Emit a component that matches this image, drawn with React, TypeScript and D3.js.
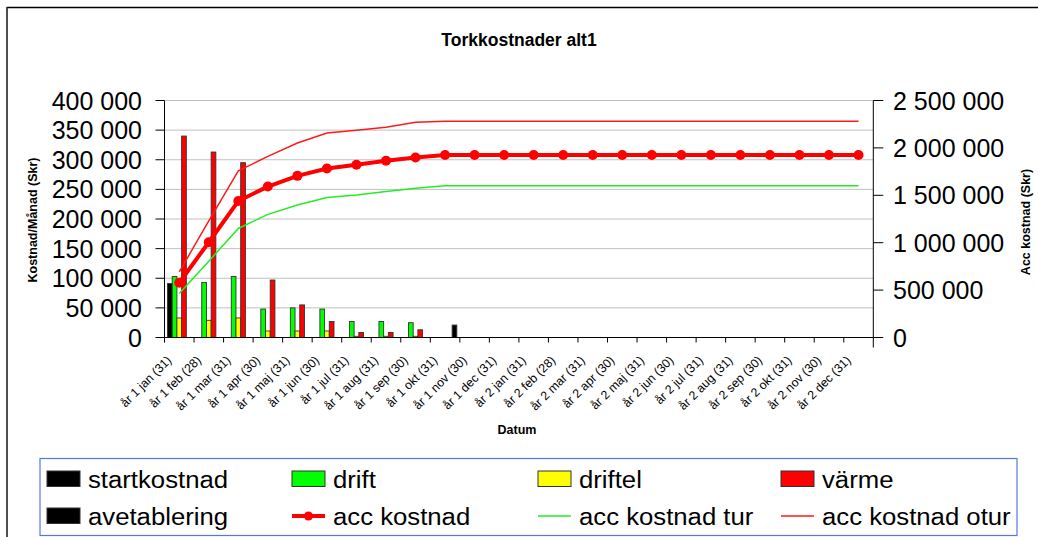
import React from "react";
import * as d3 from "d3";

const categories = [
  "år 1 jan (31)", "år 1 feb (28)", "år 1 mar (31)", "år 1 apr (30)", "år 1 maj (31)", "år 1 jun (30)",
  "år 1 jul (31)", "år 1 aug (31)", "år 1 sep (30)", "år 1 okt (31)", "år 1 nov (30)", "år 1 dec (31)",
  "år 2 jan (31)", "år 2 feb (28)", "år 2 mar (31)", "år 2 apr (30)", "år 2 maj (31)", "år 2 jun (30)",
  "år 2 jul (31)", "år 2 aug (31)", "år 2 sep (30)", "år 2 okt (31)", "år 2 nov (30)", "år 2 dec (31)",
];

const startkostnad = [91000, 0, 0, 0, 0, 0, 0, 0, 0, 0, 0, 0, 0, 0, 0, 0, 0, 0, 0, 0, 0, 0, 0, 0];
const drift = [103000, 93000, 103000, 48000, 50000, 48000, 27000, 27000, 25000, 0, 0, 0, 0, 0, 0, 0, 0, 0, 0, 0, 0, 0, 0, 0];
const driftel = [33000, 29000, 33000, 11000, 11000, 11000, 2000, 2000, 2000, 0, 0, 0, 0, 0, 0, 0, 0, 0, 0, 0, 0, 0, 0, 0];
const varme = [340000, 313000, 295000, 97000, 55000, 27000, 8500, 8500, 13000, 0, 0, 0, 0, 0, 0, 0, 0, 0, 0, 0, 0, 0, 0, 0];
const avetablering = [0, 0, 0, 0, 0, 0, 0, 0, 0, 21000, 0, 0, 0, 0, 0, 0, 0, 0, 0, 0, 0, 0, 0, 0];

const accKostnad = [578000, 1005000, 1440000, 1592000, 1705000, 1783000, 1822000, 1864000, 1899000, 1925000,
  1925000, 1925000, 1925000, 1925000, 1925000, 1925000, 1925000, 1925000, 1925000, 1925000, 1925000, 1925000, 1925000, 1925000];
const accKostnadTur = [463000, 805000, 1150000, 1299000, 1398000, 1476000, 1504000, 1539000, 1575000, 1600000,
  1600000, 1600000, 1600000, 1600000, 1600000, 1600000, 1600000, 1600000, 1600000, 1600000, 1600000, 1600000, 1600000, 1600000];
const accKostnadOtur = [692000, 1230000, 1758000, 1910000, 2052000, 2158000, 2186000, 2217000, 2270000, 2281000,
  2281000, 2281000, 2281000, 2281000, 2281000, 2281000, 2281000, 2281000, 2281000, 2281000, 2281000, 2281000, 2281000, 2281000];

const leftTicks = [0, 50000, 100000, 150000, 200000, 250000, 300000, 350000, 400000];
const rightTicks = [0, 500000, 1000000, 1500000, 2000000, 2500000];

const barSeries = [
  { name: "startkostnad", values: startkostnad, color: "#000000" },
  { name: "drift", values: drift, color: "#00ff00" },
  { name: "driftel", values: driftel, color: "#ffff00" },
  { name: "värme", values: varme, color: "#ff0000" },
  { name: "avetablering", values: avetablering, color: "#000000" },
];

const FONT = "'Liberation Sans', Arial, sans-serif";
const fmt = (v: number) => d3.format(",")(v).replace(/,/g, " ");

export default function App() {
  const W = 1038, H = 537;
  const L = 164.5, R = 873.3, T = 100.5, B = 337.5;

  const x = d3.scaleBand<string>().domain(categories).range([L, R]).padding(0);
  const xs = d3.scaleBand<string>().domain(barSeries.map(s => s.name)).range([0, x.bandwidth()]).paddingInner(0).paddingOuter(0.64);
  const yL = d3.scaleLinear().domain([0, 400000]).range([B, T]);
  const yR = d3.scaleLinear().domain([0, 2500000]).range([B, T]);
  const cx = (c: string) => (x(c) as number) + x.bandwidth() / 2;

  const line = (vals: number[]) =>
    d3.line<number>().x((_, i) => cx(categories[i])).y(v => yR(v))(vals) as string;

  const legendRow1 = [
    { label: "startkostnad", x: 47, color: "#000000" },
    { label: "drift", x: 292, color: "#00ff00" },
    { label: "driftel", x: 538, color: "#ffff00" },
    { label: "värme", x: 781, color: "#ff0000" },
  ];
  const SX = 1.05;
  const LText = ({ x0, y0, children }: { x0: number; y0: number; children: React.ReactNode }) => (
    <text transform={`translate(${x0},${y0}) scale(${SX},1)`} fontSize={24.5}>{children}</text>
  );

  return (
    <svg width={W} height={H} style={{ position: "absolute", left: 0, top: 0, background: "#fff" }} fontFamily={FONT}>
      <rect x={0} y={0} width={W} height={H} fill="#fff" />
      {/* outer frame */}
      <line x1={7} y1={7.5} x2={W} y2={7.5} stroke="#000" strokeWidth={1.3} />
      <line x1={7} y1={7} x2={7} y2={H} stroke="#222" strokeWidth={1.6} />

      <text x={519} y={46} textAnchor="middle" fontSize={17.5} fontWeight="bold">Torkkostnader alt1</text>

      {/* gridlines */}
      {leftTicks.map(t => (
        <line key={"g" + t} x1={L} x2={R} y1={yL(t)} y2={yL(t)} stroke="#c0c0c0" strokeWidth={1} />
      ))}

      {/* bars */}
      {barSeries.map(s =>
        s.values.map((v, i) =>
          v > 0 ? (
            <rect key={s.name + i}
              x={(x(categories[i]) as number) + (xs(s.name) as number)}
              y={yL(v)} width={xs.bandwidth()} height={B - yL(v)}
              fill={s.color} stroke="#333" strokeWidth={0.9} />
          ) : null
        )
      )}

      {/* lines */}
      <path d={line(accKostnadTur)} fill="none" stroke="#22ee22" strokeWidth={1.5} />
      <path d={line(accKostnadOtur)} fill="none" stroke="#ff1a1a" strokeWidth={1.5} />
      <path d={line(accKostnad)} fill="none" stroke="#ff0000" strokeWidth={4} />
      {accKostnad.map((v, i) => (
        <circle key={"m" + i} cx={cx(categories[i])} cy={yR(v)} r={5} fill="#ff0000" />
      ))}

      {/* left axis */}
      <line x1={L} x2={L} y1={T} y2={B} stroke="#000" strokeWidth={1} />
      {leftTicks.map(t => (
        <g key={"l" + t}>
          <line x1={L - 9} x2={L} y1={yL(t)} y2={yL(t)} stroke="#000" />
          <text x={142} y={yL(t)} dy="0.36em" textAnchor="end" fontSize={25}>{fmt(t)}</text>
        </g>
      ))}
      <text transform={`translate(37,220) rotate(-90)`} textAnchor="middle" fontSize={12.5} fontWeight="bold">Kostnad/Månad (Skr)</text>

      {/* right axis */}
      <line x1={R} x2={R} y1={T} y2={B + 10} stroke="#000" strokeWidth={1} />
      {rightTicks.map(t => (
        <g key={"r" + t}>
          <line x1={R} x2={R + 10} y1={yR(t)} y2={yR(t)} stroke="#000" />
          <text x={893} y={yR(t)} dy="0.36em" textAnchor="start" fontSize={25}>{fmt(t)}</text>
        </g>
      ))}
      <text transform={`translate(1030,222) rotate(-90)`} textAnchor="middle" fontSize={12.5} fontWeight="bold">Acc kostnad (Skr)</text>

      {/* x axis */}
      <line x1={L} x2={R} y1={B} y2={B} stroke="#000" strokeWidth={1} />
      {categories.map((c, i) => (
        <line key={"xt" + i} x1={x(c) as number} x2={x(c) as number} y1={B} y2={B + 5} stroke="#000" />
      ))}
      {categories.map((c, i) => (
        <text key={"xl" + i} transform={`translate(${cx(c) - 7},361) rotate(-45)`} textAnchor="end" fontSize={12.3}>{c}</text>
      ))}
      <text x={517} y={434} textAnchor="middle" fontSize={12.5} fontWeight="bold">Datum</text>

      {/* legend */}
      <rect x={40} y={458.5} width={977} height={77} fill="#fff" stroke="#5577ee" strokeWidth={1.2} />
      {legendRow1.map(d => (
        <g key={d.label}>
          <rect x={d.x} y={471} width={33} height={15.5} fill={d.color} stroke="#333" strokeWidth={1} />
          <LText x0={d.x + 41} y0={487.5}>{d.label}</LText>
        </g>
      ))}
      <rect x={47} y={508} width={33} height={15.5} fill="#000" stroke="#333" strokeWidth={1} />
      <LText x0={88} y0={524.5}>avetablering</LText>

      <line x1={292} x2={325} y1={516} y2={516} stroke="#ff0000" strokeWidth={4} />
      <circle cx={308.5} cy={516} r={4.5} fill="#ff0000" />
      <LText x0={333} y0={524.5}>acc kostnad</LText>

      <line x1={538} x2={571} y1={516} y2={516} stroke="#22ee22" strokeWidth={1.5} />
      <LText x0={579} y0={524.5}>acc kostnad tur</LText>

      <line x1={781} x2={814} y1={516} y2={516} stroke="#ff1a1a" strokeWidth={1.5} />
      <LText x0={822} y0={524.5}>acc kostnad otur</LText>
    </svg>
  );
}
